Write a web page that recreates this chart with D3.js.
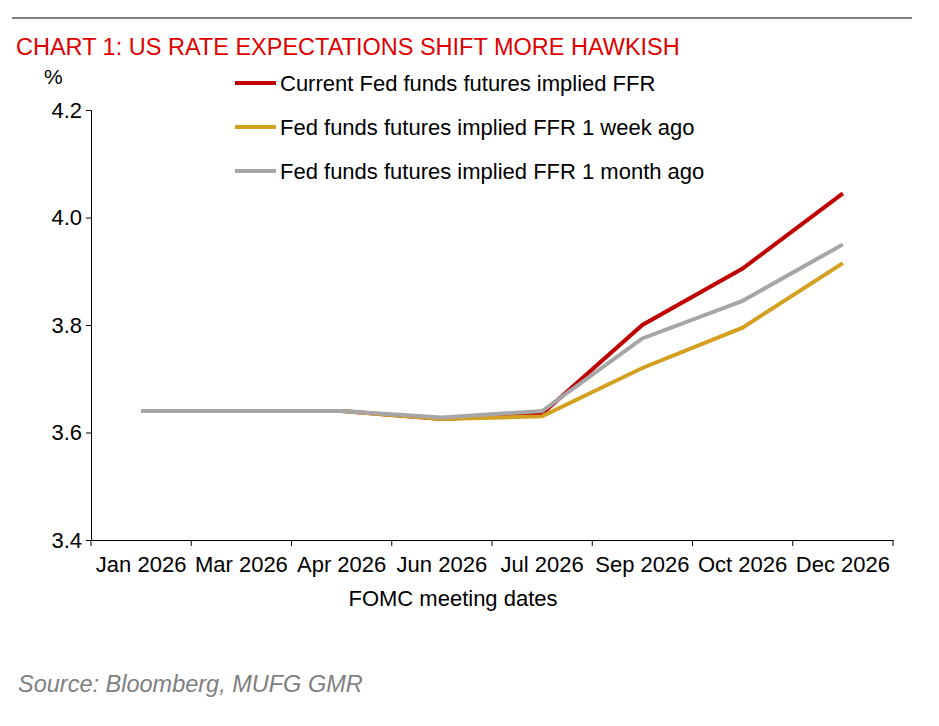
<!DOCTYPE html>
<meta charset="utf-8">
<script src="https://d3js.org/d3.v7.min.js"></script>
<style>
  body { margin: 0; background: #fff; }
  text { font-family: "Liberation Sans", Arial, sans-serif; }
</style>
<div id="chart"></div>
<script>
  // FOMC meeting dates and implied rates
  const months = ["Jan 2026", "Mar 2026", "Apr 2026", "Jun 2026", "Jul 2026", "Sep 2026", "Oct 2026", "Dec 2026"];
  const current = [3.64, 3.64, 3.64, 3.625, 3.635, 3.80, 3.905, 4.045];
  const weekAgo = [3.64, 3.64, 3.64, 3.625, 3.63, 3.72, 3.795, 3.915];
  const monthAgo = [3.64, 3.64, 3.64, 3.628, 3.64, 3.775, 3.845, 3.95];
  const yTicks = [3.4, 3.6, 3.8, 4.0, 4.2];

  const series = [
    {name: "Current Fed funds futures implied FFR", values: current, color: "#c00000"},
    {name: "Fed funds futures implied FFR 1 week ago", values: weekAgo, color: "#d4a020"},
    {name: "Fed funds futures implied FFR 1 month ago", values: monthAgo, color: "#a6a6a6"}
  ];

  var svg = d3.select("#chart").append("svg")
    .attr("width", 939).attr("height", 726);

  svg.append("line").attr("x1", 12).attr("x2", 912).attr("y1", 18).attr("y2", 18)
    .attr("stroke", "#000").attr("stroke-width", 1);

  svg.append("text").attr("x", 16).attr("y", 55)
    .attr("fill", "#e00000").style("font-size", "23.5px")
    .text("CHART 1: US RATE EXPECTATIONS SHIFT MORE HAWKISH");

  var x = d3.scaleBand().domain(months).range([91, 893]);
  var y = d3.scaleLinear().domain([3.4, 4.2]).range([540, 110]);

  var yAxis = svg.append("g").attr("transform", "translate(91,0)")
    .call(d3.axisLeft(y).tickValues(yTicks).tickFormat(d3.format(".1f")).tickSize(5));
  yAxis.selectAll("text").style("font-size", "22px").attr("fill", "#000").attr("dx", "-1");
  yAxis.select(".domain").attr("stroke", "#000");

  var xAxis = svg.append("g").attr("transform", "translate(0,540)")
    .call(d3.axisBottom(x).tickSize(0));
  xAxis.selectAll("text").style("font-size", "22px").attr("fill", "#000").attr("dy", "1.3em");
  xAxis.select(".domain").attr("stroke", "#000");
  // boundary ticks between categories
  xAxis.selectAll(".bt").data(d3.range(months.length + 1)).enter().append("line")
    .attr("x1", function(i) { return 91 + i * x.step(); })
    .attr("x2", function(i) { return 91 + i * x.step(); })
    .attr("y1", 0).attr("y2", 6).attr("stroke", "#000");

  svg.append("text").attr("x", 44).attr("y", 84).style("font-size", "21px").text("%");
  svg.append("text").attr("x", 453).attr("y", 606).attr("text-anchor", "middle")
    .style("font-size", "22px").text("FOMC meeting dates");

  var line = d3.line()
    .x(function(d, i) { return x(months[i]) + x.bandwidth() / 2; })
    .y(function(d) { return y(d); });

  series.forEach(function(s) {
    svg.append("path").datum(s.values)
      .attr("d", line).attr("fill", "none")
      .attr("stroke", s.color).attr("stroke-width", 4);
  });

  var legend = svg.append("g");
  series.forEach(function(s, i) {
    var ly = 83 + i * 44;
    legend.append("line").attr("x1", 235).attr("x2", 276).attr("y1", ly).attr("y2", ly)
      .attr("stroke", s.color).attr("stroke-width", 4);
    legend.append("text").attr("x", 280).attr("y", ly + 8)
      .style("font-size", "22px").text(s.name);
  });

  svg.append("text").attr("x", 18).attr("y", 692)
    .attr("fill", "#7f7f7f").style("font-size", "23.5px").style("font-style", "italic")
    .text("Source: Bloomberg, MUFG GMR");
</script>
